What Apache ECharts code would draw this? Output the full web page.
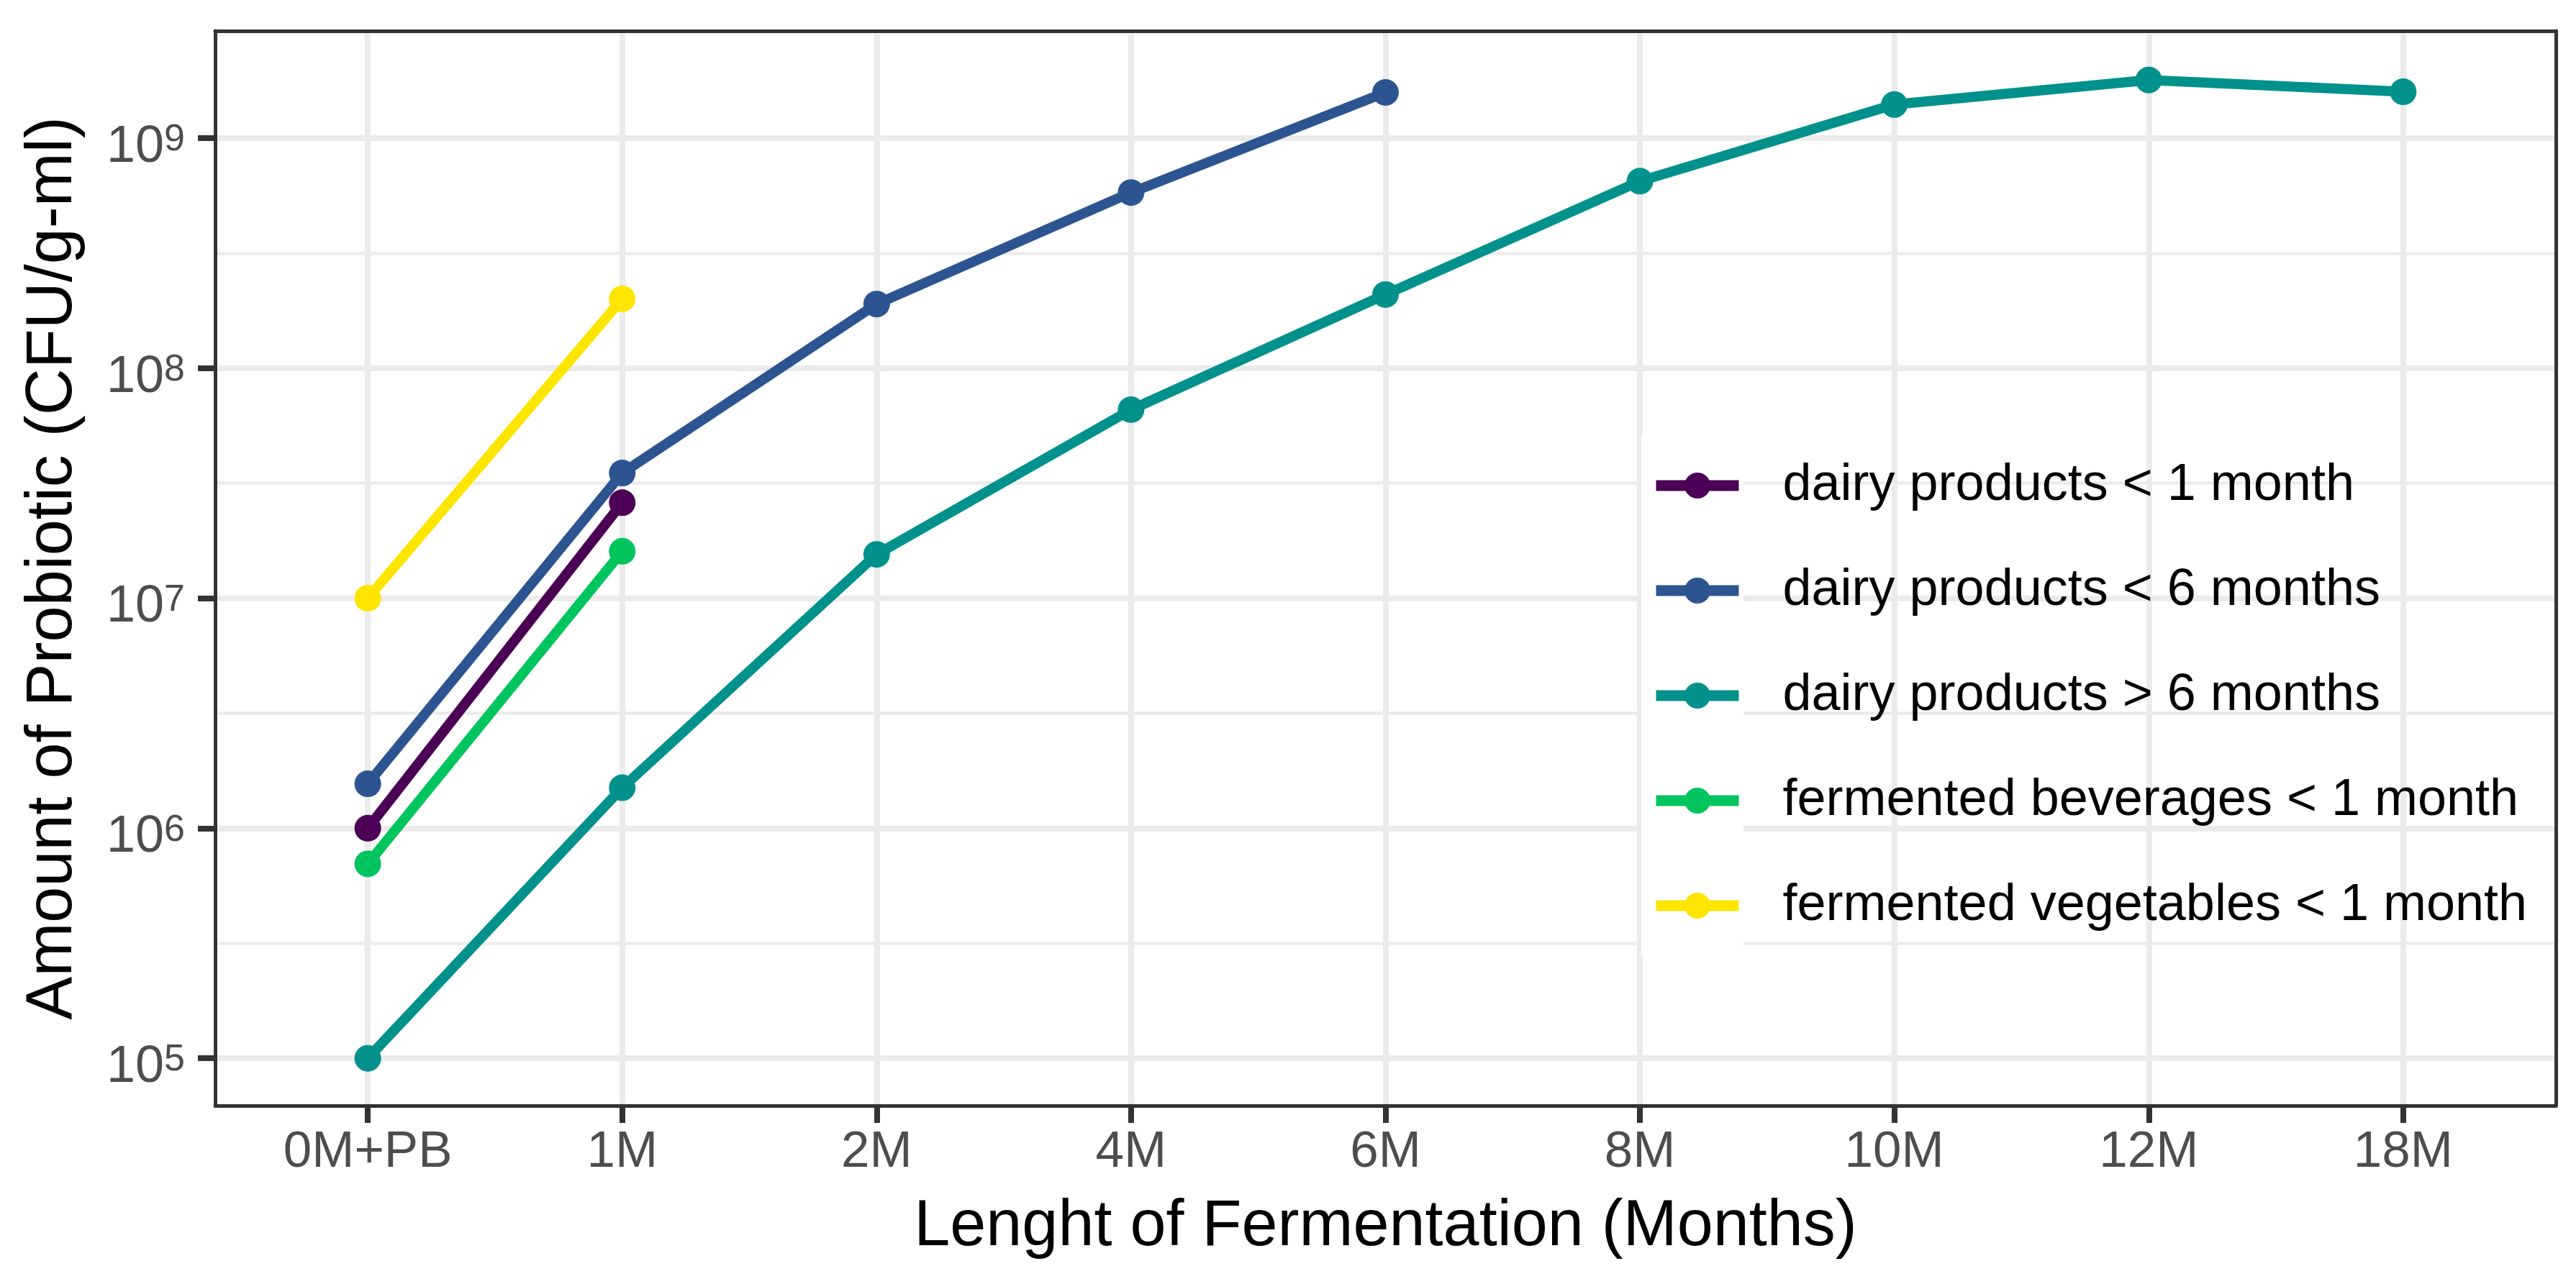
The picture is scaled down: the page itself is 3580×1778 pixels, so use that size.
<!DOCTYPE html>
<html><head><meta charset="utf-8">
<script src="https://cdn.jsdelivr.net/npm/echarts@6/dist/echarts.min.js"></script>
<style>html,body{margin:0;padding:0;background:#fff}#c{width:3580px;height:1778px}</style>
</head><body><div id="c"></div>
<script>
// ---- data ----
const categories = ['0M+PB', '1M', '2M', '4M', '6M', '8M', '10M', '12M', '18M'];
const seriesNames = [
  'dairy products < 1 month',
  'dairy products < 6 months',
  'dairy products > 6 months',
  'fermented beverages < 1 month',
  'fermented vegetables < 1 month'
];
const dairyUnder1 = [1.0e6, 2.6e7, null, null, null, null, null, null, null];
const dairyUnder6 = [1.56e6, 3.5e7, 1.9e8, 5.8e8, 1.58e9, null, null, null, null];
const dairyOver6 = [1.0e5, 1.5e6, 1.55e7, 6.6e7, 2.09e8, 6.5e8, 1.4e9, 1.79e9, 1.59e9];
const beveragesUnder1 = [7.0e5, 1.6e7, null, null, null, null, null, null, null];
const vegetablesUnder1 = [1.0e7, 2.0e8, null, null, null, null, null, null, null];
const yTickValues = [1e5, 1e6, 1e7, 1e8, 1e9];
const yMinorValues = [Math.pow(10, 5.5), Math.pow(10, 6.5), Math.pow(10, 7.5), Math.pow(10, 8.5)];

const colors = ['#4B0055', '#2C5490', '#00918C', '#00C55E', '#FDE500'];
const allValues = [dairyUnder1, dairyUnder6, dairyOver6, beveragesUnder1, vegetablesUnder1];

const FONT = '"Liberation Sans", Arial, sans-serif';
const yMin = Math.pow(10, 4.794), yMax = Math.pow(10, 9.466);
const xIdx = categories.map((_, i) => i);

const chart = echarts.init(document.getElementById('c'), null, {renderer: 'canvas'});

const series = allValues.map((vals, k) => ({
  name: seriesNames[k],
  type: 'line',
  xAxisIndex: 0,
  yAxisIndex: 0,
  data: vals.map((v, i) => v == null ? null : [i, v]).filter(d => d),
  symbol: 'circle',
  symbolSize: 37,
  showSymbol: true,
  lineStyle: {width: 14, color: colors[k]},
  itemStyle: {color: colors[k]},
  emphasis: {disabled: true},
  z: 3 + k,
  animation: false
}));

function borderLine() { return {show: true, onZero: false, lineStyle: {color: '#333333', width: 5}}; }

chart.setOption({
  animation: false,
  backgroundColor: '#fff',
  grid: {left: 299, right: 28, top: 43, bottom: 241, show: false, containLabel: false},
  xAxis: [{
    type: 'value', min: -0.6, max: 8.6, position: 'bottom',
    name: 'Lenght of Fermentation (Months)', nameLocation: 'middle', nameGap: 124,
    nameTextStyle: {fontFamily: FONT, fontSize: 90, color: '#000'},
    axisLine: borderLine(),
    axisTick: {show: true, inside: false, length: 24, customValues: xIdx, lineStyle: {color: '#333333', width: 8}},
    axisLabel: {customValues: xIdx, margin: 30, fontFamily: FONT, fontSize: 71, color: '#4D4D4D',
      formatter: v => categories[Math.round(v)]},
    splitLine: {show: true, lineStyle: {color: '#EBEBEB', width: 8}}
  }, {
    type: 'value', min: -0.6, max: 8.6, position: 'top',
    axisLine: borderLine(),
    axisTick: {show: false},
    axisLabel: {show: false},
    splitLine: {show: false}
  }],
  yAxis: [{
    type: 'log', logBase: 10, min: yMin, max: yMax, position: 'left',
    name: 'Amount of Probiotic (CFU/g-ml)', nameLocation: 'middle', nameGap: 180,
    nameTextStyle: {fontFamily: FONT, fontSize: 90, color: '#000'},
    axisLine: borderLine(),
    axisTick: {show: true, inside: false, length: 24, customValues: yTickValues, lineStyle: {color: '#333333', width: 8}},
    axisLabel: {customValues: yTickValues, margin: 42, padding: [26, 0, 0, 0],
      formatter: v => '{b|10}{s|' + Math.round(Math.log10(v)) + '}',
      rich: {
        b: {fontFamily: FONT, fontSize: 72, color: '#4D4D4D', lineHeight: 72, verticalAlign: 'bottom'},
        s: {fontFamily: FONT, fontSize: 52, color: '#4D4D4D', lineHeight: 36, verticalAlign: 'top'}
      }},
    splitLine: {show: true, lineStyle: {color: '#EBEBEB', width: 8}}
  }, {
    type: 'log', logBase: 10, min: yMin, max: yMax, position: 'right',
    axisLine: borderLine(),
    axisTick: {show: false, customValues: yMinorValues},
    axisLabel: {show: false, customValues: yMinorValues},
    splitLine: {show: true, lineStyle: {color: '#EBEBEB', width: 4.5}}
  }],
  legend: {
    orient: 'vertical', left: 2294, top: 639, padding: 0,
    itemWidth: 115, itemHeight: 45, itemGap: 74,
    selectedMode: false,
    lineStyle: {width: 15},
    textStyle: {fontFamily: FONT, fontSize: 72, color: '#000', padding: [0, 0, 0, 56]},
    data: seriesNames
  },
  graphic: [{
    type: 'rect', z: 1, silent: true,
    shape: {x: 2281, y: 603, width: 142, height: 725},
    style: {fill: '#fff'}
  }],
  series: series
});
</script>
</body></html>
